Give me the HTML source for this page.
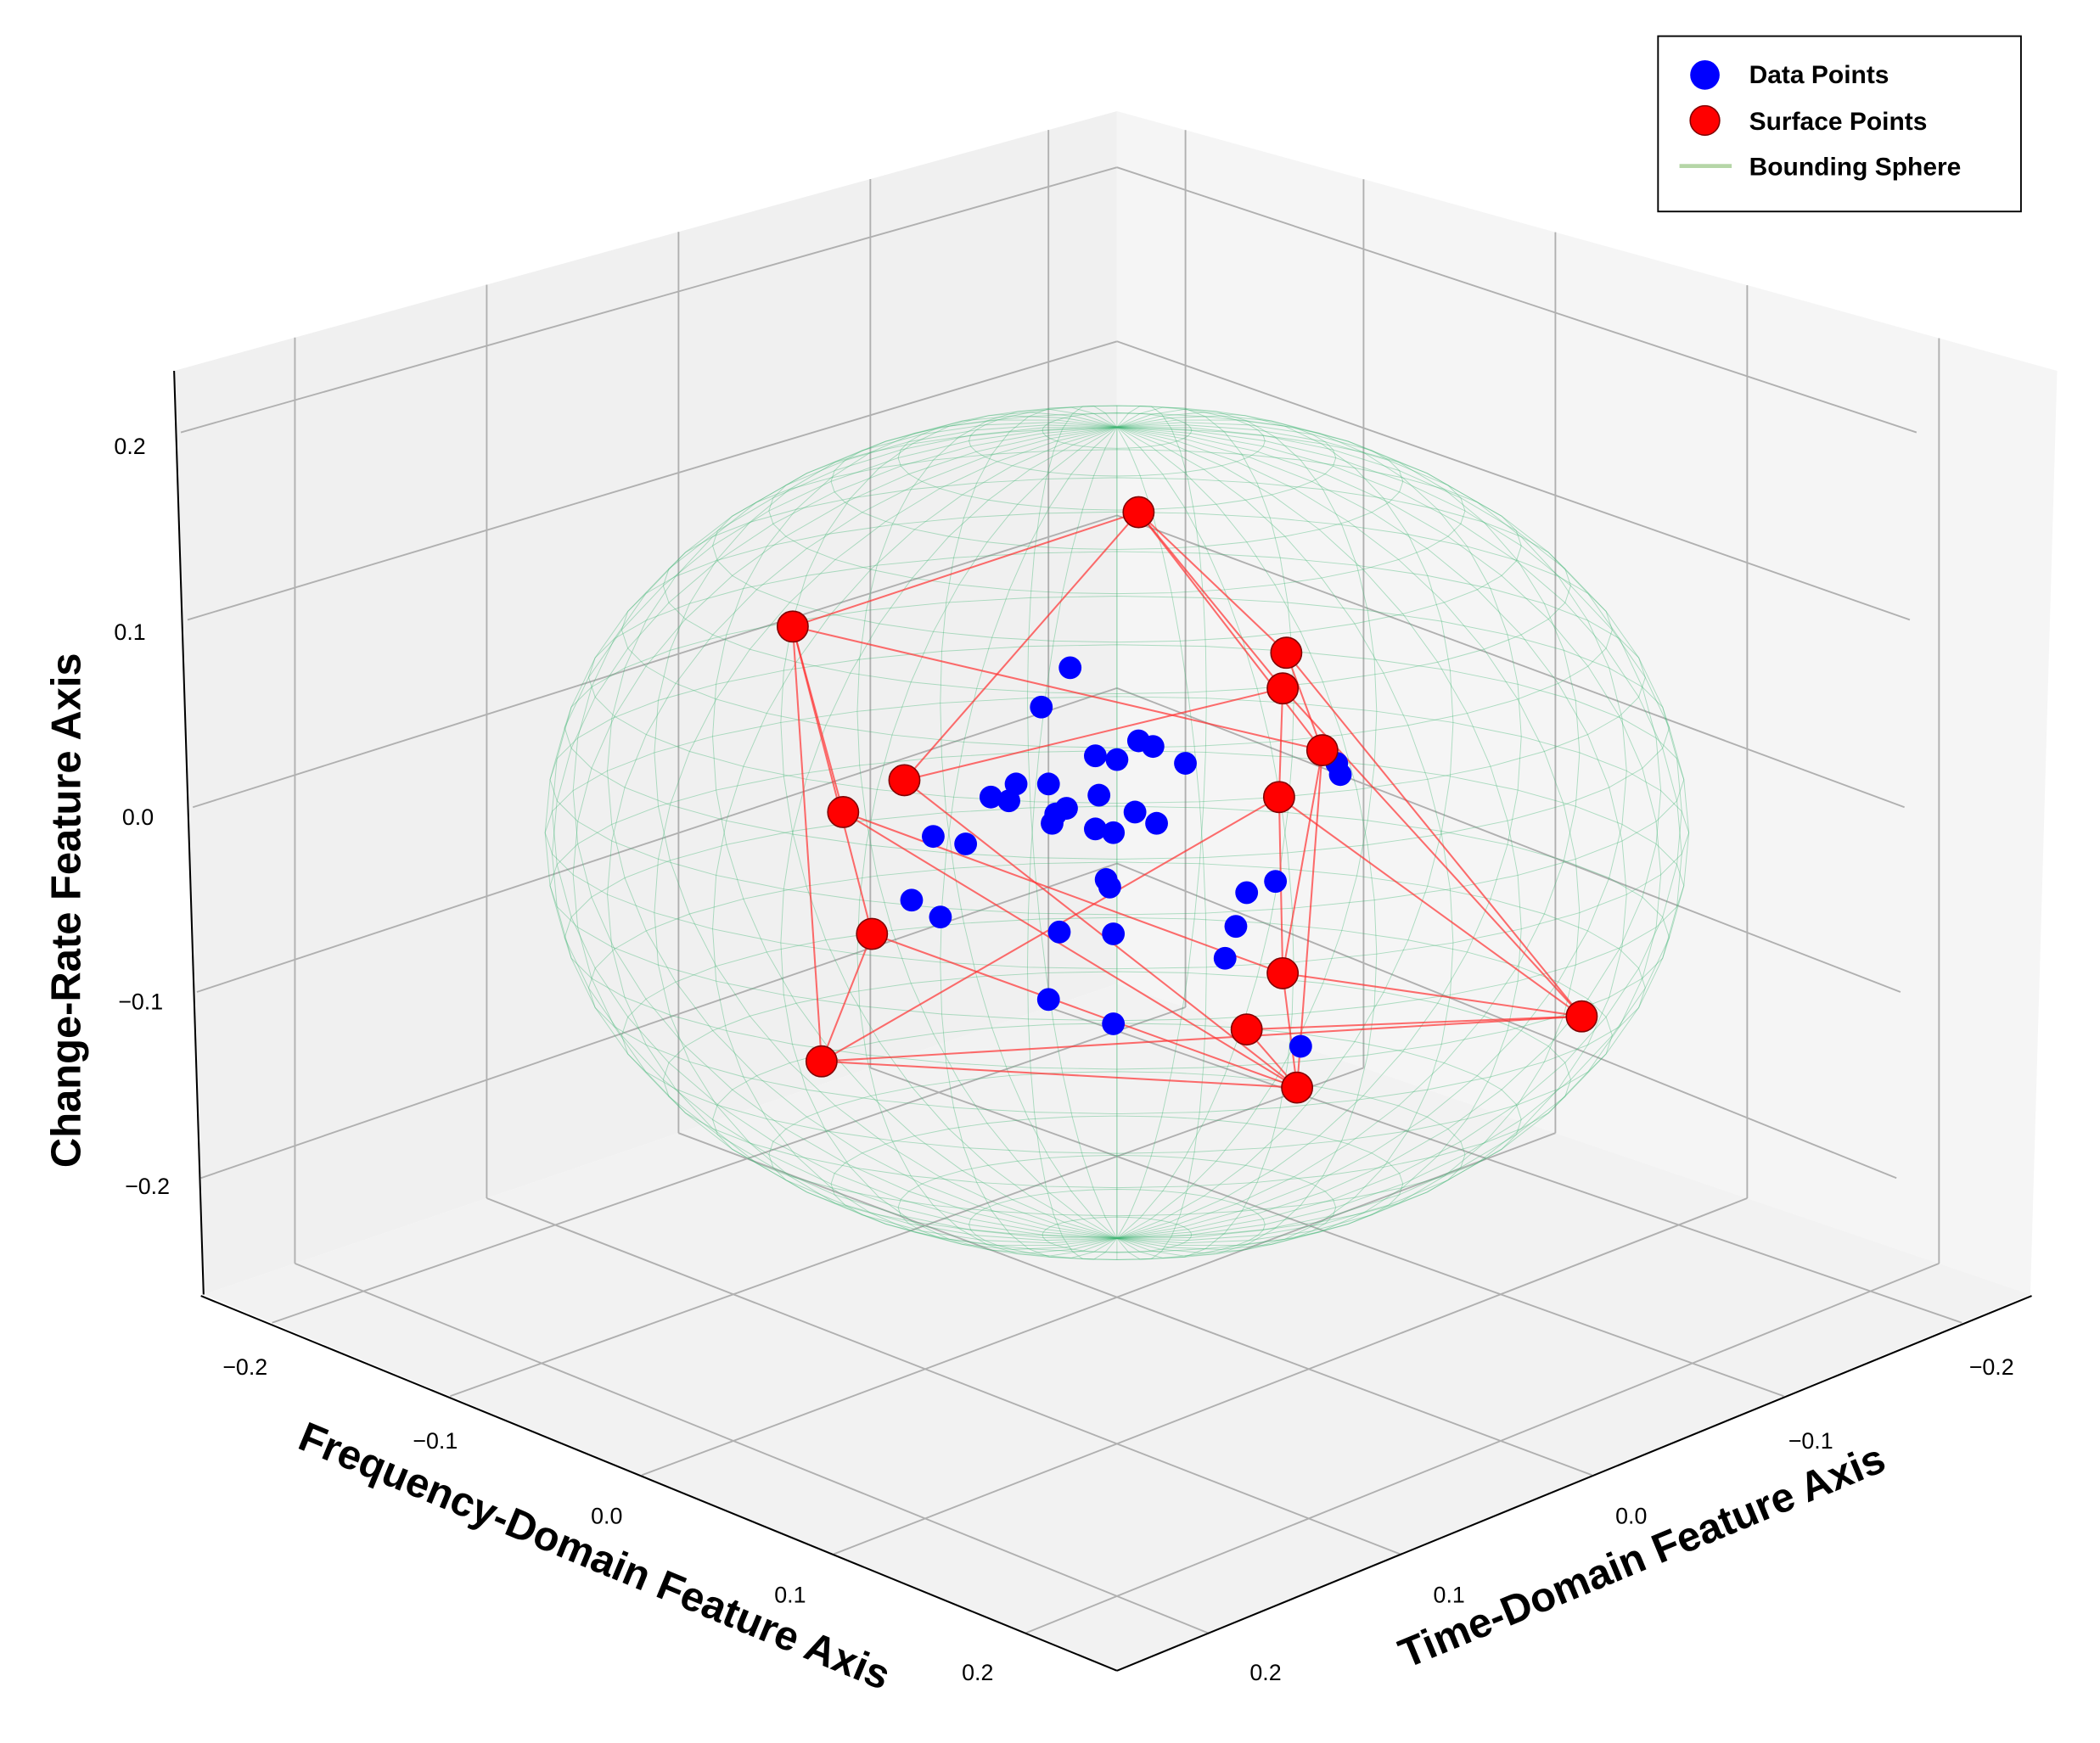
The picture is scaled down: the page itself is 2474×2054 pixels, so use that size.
<!DOCTYPE html>
<html><head><meta charset="utf-8"><style>
html,body{margin:0;padding:0;background:#fff}
svg{display:block}
text{font-family:"Liberation Sans",sans-serif}
</style></head><body>
<svg id="chart" width="2474" height="2054" viewBox="0 0 1568 1302" preserveAspectRatio="none" xmlns="http://www.w3.org/2000/svg">
<g id="panes">
<polygon points="130,277 834,83 834,735 152,967" fill="#f0f0f0"/>
<polygon points="834,83 1536,277 1516,967 834,735" fill="#f5f5f5"/>
<polygon points="152,967 834,735 1516,967 834,1248" fill="#f2f2f2"/>
</g>
<g id="grid" stroke="#b0b0b0" stroke-width="1.2" fill="none"></g>
<g id="sphere" stroke="#3cb371" stroke-opacity="0.4" stroke-width="0.6" fill="none"></g>
<g id="edges" stroke="#ff3030" stroke-opacity="0.7" stroke-width="1.3"></g>
<g id="blue"></g>
<g id="red"></g>
<g id="axes" stroke="#000" stroke-width="1.3">
<line x1="130" y1="277" x2="152" y2="967"/>
<line x1="150" y1="968" x2="834" y2="1248"/>
<line x1="1517" y1="968" x2="834" y2="1248"/>
</g>
<g id="ticks" font-size="17" fill="#000" style="font-family:'DejaVu Sans',sans-serif"></g>
<text transform="translate(60,680) rotate(-90)" text-anchor="middle" font-size="31" font-weight="bold">Change-Rate Feature Axis</text>
<text transform="translate(440,1172) rotate(22.5)" text-anchor="middle" font-size="31" font-weight="bold">Frequency-Domain Feature Axis</text>
<text transform="translate(1230,1172) rotate(-22.5)" text-anchor="middle" font-size="31" font-weight="bold">Time-Domain Feature Axis</text>
<g>
<rect x="1238" y="27" width="271" height="131" fill="#fff" stroke="#000" stroke-width="1.2"/>
<circle cx="1273" cy="56" r="11" fill="#0000ff"/>
<text x="1306" y="62" font-size="19" font-weight="bold">Data Points</text>
<circle cx="1273" cy="90" r="11" fill="#ff0000" stroke="#800000" stroke-width="1"/>
<text x="1306" y="97" font-size="19" font-weight="bold">Surface Points</text>
<line x1="1254" y1="124" x2="1293" y2="124" stroke="#b5d6a7" stroke-width="3"/>
<text x="1306" y="131" font-size="19" font-weight="bold">Bounding Sphere</text>
</g>
</svg>
<script>
// data: time-domain (x), frequency-domain (y), change-rate (z)
const blueTime=[.013,.021,.006,0,-.006,-.010,-.019,.028,.019,.035,.030,.005,.014,.017,.018,.006,.001,-.005,-.011,.051,.042,.003,.002,-.044,-.036,.057,.049,-.033,.016,.001,-.030,.019,.001,-.051,-.061,-.062];
const blueFreq=blueTime.map(v=>-v);
const blueRate=[.088,.067,.041,.039,.049,.046,.037,.026,.026,.019,.017,.020,.013,.010,.005,.002,0,.011,.005,-.002,-.006,-.025,-.029,-.026,-.032,-.036,-.045,-.050,-.053,-.054,-.067,-.089,-.102,-.114,.037,.031];
const redTime=[-.006,.090,-.047,-.046,-.057,.059,.076,-.045,.068,-.046,-.129,-.036,.082,-.050];
const redFreq=redTime.map(v=>-v);
const redRate=[.171,.110,.096,.077,.044,.028,.011,.019,-.054,-.075,-.098,-.105,-.122,-.136];
const edgeList=[[0,1],[0,5],[0,2],[0,3],[0,4],[2,10],[3,10],[1,4],[1,6],[1,8],[1,12],[5,3],[5,13],[6,9],[6,13],[8,13],[8,12],[12,7],[12,10],[12,13],[7,9],[7,10],[9,10],[9,13],[11,13],[11,10],[4,13],[4,9],[3,7],[2,4]];
const sphereRadius=0.218;
const freqTicks=["\u22120.2","\u22120.1","0.0","0.1","0.2"];
const timeTicks=["\u22120.2","\u22120.1","0.0","0.1","0.2"];
const rateTicks=["0.2","0.1","0.0","\u22120.1","\u22120.2"];

const NS="http://www.w3.org/2000/svg";
function proj(x,y,z){return [834+(y-x)*1345, 622-z*1400+(x+y)*560];}
function projSphere(x,y,z){return [834+(y-x)*1385, 622-z*1390+(x+y)*330];}
function mk(tag,attrs,parent){const e=document.createElementNS(NS,tag);for(const k in attrs)e.setAttribute(k,attrs[k]);parent.appendChild(e);return e;}

// grid
const grid=document.getElementById('grid');
const zl=[[135,323],[140,463],[144,603],[147,741],[150,880]];
const zb=[125,255,385,514,645];
zl.forEach((p,i)=>{
 let l=mk('line',{x1:p[0],y1:p[1],x2:834,y2:zb[i]},grid);
 
 let r=mk('line',{x1:1568-p[0]-2,y1:p[1],x2:834,y2:zb[i]},grid);
 
});
const tf=[.1,.31,.52,.73,.925];
const L=[152,967],B=[834,735],R=[1516,967],F=[834,1248];
function lerp(a,b,t){return [a[0]+(b[0]-a[0])*t,a[1]+(b[1]-a[1])*t];}
function topAt(p1,p2,x){return p1[1]+(p2[1]-p1[1])*(x-p1[0])/(p2[0]-p1[0]);}
tf.forEach(t=>{
 const a=lerp(L,B,t), b=lerp(F,R,t);
 let v=mk('line',{x1:a[0],y1:topAt([130,277],[834,83],a[0]),x2:a[0],y2:a[1]},grid);
 
 let f=mk('line',{x1:a[0],y1:a[1],x2:b[0],y2:b[1]},grid);
 
 const c=lerp(R,B,t), d=lerp(F,L,t);
 let v2=mk('line',{x1:c[0],y1:topAt([834,83],[1536,277],c[0]),x2:c[0],y2:c[1]},grid);
 
 let f2=mk('line',{x1:c[0],y1:c[1],x2:d[0],y2:d[1]},grid);
 
});

// sphere wireframe
const sph=document.getElementById('sphere');
const NU=40,NV=24;
for(let i=0;i<NU;i++){
 const u=i/NU*2*Math.PI;let d='';
 for(let j=0;j<=NV;j++){const v=j/NV*Math.PI;
  const p=projSphere(sphereRadius*Math.cos(u)*Math.sin(v),sphereRadius*Math.sin(u)*Math.sin(v),sphereRadius*Math.cos(v));
  d+=(j?'L':'M')+p[0].toFixed(1)+','+p[1].toFixed(1);}
 const e=mk('path',{d:d},sph);
 
 
}
for(let j=1;j<NV;j++){
 const v=j/NV*Math.PI;let d='';
 for(let i=0;i<=NU;i++){const u=i/NU*2*Math.PI;
  const p=projSphere(sphereRadius*Math.cos(u)*Math.sin(v),sphereRadius*Math.sin(u)*Math.sin(v),sphereRadius*Math.cos(v));
  d+=(i?'L':'M')+p[0].toFixed(1)+','+p[1].toFixed(1);}
 const e=mk('path',{d:d},sph);
 
 
}

// edges
const eg=document.getElementById('edges');
edgeList.forEach(([a,b])=>{
 const p=proj(redTime[a],redFreq[a],redRate[a]),q=proj(redTime[b],redFreq[b],redRate[b]);
 const e=mk('line',{x1:p[0],y1:p[1],x2:q[0],y2:q[1]},eg);
 
 
});
// blue points
const bg=document.getElementById('blue');
blueTime.forEach((x,i)=>{
 const p=proj(x,blueFreq[i],blueRate[i]);
 const c=mk('circle',{cx:p[0],cy:p[1],r:8.5,fill:'#0000ff'},bg);
 
 
});
// red points
const rg=document.getElementById('red');
redTime.forEach((x,i)=>{
 const p=proj(x,redFreq[i],redRate[i]);
 const c=mk('circle',{cx:p[0],cy:p[1],r:11.5,fill:'#ff0000',stroke:'#800000','stroke-width':1},rg);
 
 
});
// ticks
const tg=document.getElementById('ticks');
const fPos=[[183,1027],[325,1082],[453,1138],[590,1197],[730,1255]];
const tPos=[[1487,1027],[1352,1082],[1218,1138],[1082,1197],[945,1255]];
const zPos=[[97,339],[97,478],[103,616],[105,754],[110,892]];
freqTicks.forEach((s,i)=>{const t=mk('text',{x:fPos[i][0],y:fPos[i][1],'text-anchor':'middle'},tg);t.textContent=s;
 });
timeTicks.forEach((s,i)=>{const t=mk('text',{x:tPos[i][0],y:tPos[i][1],'text-anchor':'middle'},tg);t.textContent=s;
 });
rateTicks.forEach((s,i)=>{const t=mk('text',{x:zPos[i][0],y:zPos[i][1],'text-anchor':'middle'},tg);t.textContent=s;
 });
</script>
</body></html>
